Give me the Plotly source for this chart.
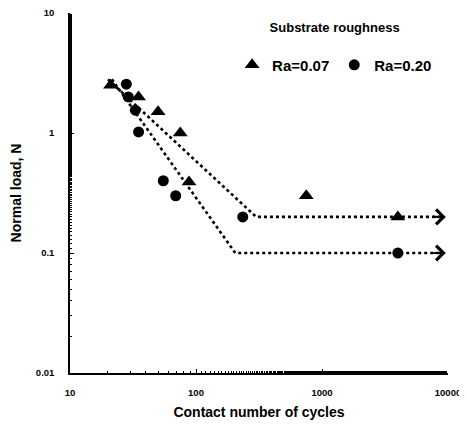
import numpy as np
import plotly.graph_objects as go

# ---- data ----
cycles_ra007 = [21, 35, 50, 75, 88, 750, 4000]
load_ra007 = [2.5, 2.0, 1.5, 1.0, 0.39, 0.30, 0.20]

cycles_ra020 = [28, 29, 33, 35, 55, 69, 235, 4000]
load_ra020 = [2.55, 2.0, 1.55, 1.02, 0.40, 0.30, 0.20, 0.10]

# fitted trend lines (dotted) with arrow at the right end
trend_upper_x = [20, 300, 9000]
trend_upper_y = [2.8, 0.2, 0.2]
trend_lower_x = [21.5, 205, 9000]
trend_lower_y = [2.8, 0.1, 0.1]
arrow_tip_x = 9600

series_names = ["Ra=0.07", "Ra=0.20"]
legend_title = "Substrate roughness"
x_ticks = [10, 100, 1000, 10000]
y_ticks = [0.01, 0.1, 1, 10]
x_title = "Contact number of cycles"
y_title = "Normal load, N"

FONT = "Liberation Sans, Arial, sans-serif"

fig = go.Figure()

for tx, ty in [(trend_upper_x, trend_upper_y), (trend_lower_x, trend_lower_y)]:
    fig.add_trace(go.Scatter(
        x=tx, y=ty, mode="lines", showlegend=False, hoverinfo="skip",
        line=dict(color="black", width=2.6, dash="3px,3px"),
    ))
    fig.add_annotation(
        x=np.log10(arrow_tip_x), y=np.log10(ty[-1]), xref="x", yref="y",
        text="", showarrow=True, ax=-14, ay=0,
        arrowhead=4, arrowsize=1.3, arrowwidth=2.2, arrowcolor="black",
    )

fig.add_trace(go.Scatter(
    x=cycles_ra007, y=load_ra007, mode="markers", name=series_names[0],
    marker=dict(symbol="triangle-up", size=13, color="black"),
))
fig.add_trace(go.Scatter(
    x=cycles_ra020, y=load_ra020, mode="markers", name=series_names[1],
    marker=dict(symbol="circle", size=11, color="black"),
))

axis_common = dict(
    type="log", showline=True, linecolor="black", linewidth=1.5,
    showgrid=False, zeroline=False, ticks="inside", ticklen=4,
    tickcolor="black", mirror=False, automargin=False,
    ticklabeloverflow="allow",
    minor=dict(ticks="inside", ticklen=2, tickcolor="black", showgrid=False),
    tickfont=dict(family=FONT, size=9.5, color="black", weight="bold"),
)

# the page body adds an 8px offset, so the figure is 8px smaller
fig.update_layout(
    width=459, height=420,
    margin=dict(l=62, r=19, t=5, b=55),
    plot_bgcolor="white", paper_bgcolor="white",
    xaxis=dict(
        **axis_common, range=[1, 4],
        tickvals=x_ticks, ticktext=[str(v) for v in x_ticks],
        ticklabelstandoff=10,
        title=dict(text=x_title, standoff=10,
                   font=dict(family=FONT, size=14, color="black", weight="bold")),
    ),
    yaxis=dict(
        **axis_common, range=[-2, 1],
        tickvals=y_ticks, ticktext=[str(v) for v in y_ticks],
        ticklabelstandoff=12,
        title=dict(text=y_title, standoff=14,
                   font=dict(family=FONT, size=14, color="black", weight="bold")),
    ),
    showlegend=True,
    legend=dict(
        orientation="h", x=0.70, y=0.995, xanchor="center", yanchor="top",
        bgcolor="rgba(0,0,0,0)",
        title=dict(text=legend_title + "<br> ", side="top center",
                   font=dict(family=FONT, size=13, color="black", weight="bold")),
        font=dict(family=FONT, size=15, color="black", weight="bold"),
        itemwidth=30,
    ),
)

fig.write_html("out.html")
